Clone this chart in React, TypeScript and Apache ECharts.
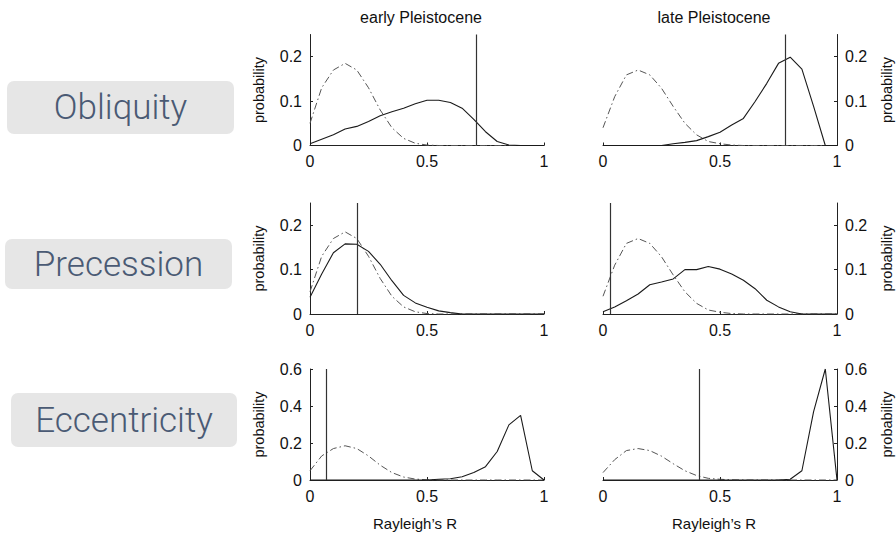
import { useEffect, useRef } from 'react';
import * as echarts from 'echarts';

// Rayleigh's R sample grid shared by every distribution
const rValues = [0, 0.05, 0.1, 0.15, 0.2, 0.25, 0.3, 0.35, 0.4, 0.45, 0.5, 0.55, 0.6, 0.65, 0.7, 0.75, 0.8, 0.85, 0.9, 0.95, 1];

// Null (random-phase) distributions, dash-dot
const nullEarly = [0.05, 0.13, 0.17, 0.185, 0.17, 0.13, 0.08, 0.04, 0.016, 0.005, 0.001, 0, 0, 0, 0, 0, 0, 0, 0, 0, 0];
const nullLate = [0.04, 0.11, 0.159, 0.17, 0.159, 0.129, 0.088, 0.05, 0.024, 0.009, 0.004, 0.001, 0, 0, 0, 0, 0, 0, 0, 0, 0];

// Distributions for each orbital forcing, solid
const obliquityEarly = [0.004, 0.014, 0.024, 0.037, 0.043, 0.054, 0.067, 0.076, 0.084, 0.094, 0.102, 0.102, 0.097, 0.084, 0.059, 0.031, 0.009, 0.001, 0, 0, 0];
const obliquityLate = [0, 0, 0, 0, 0, 0, 0.004, 0.007, 0.011, 0.02, 0.03, 0.046, 0.061, 0.099, 0.14, 0.185, 0.199, 0.172, 0.088, 0, 0];
const precessionEarly = [0.038, 0.09, 0.138, 0.158, 0.157, 0.141, 0.112, 0.075, 0.042, 0.025, 0.015, 0.007, 0.003, 0, 0, 0, 0, 0, 0, 0, 0];
const precessionLate = [0.005, 0.016, 0.03, 0.045, 0.066, 0.072, 0.079, 0.1, 0.1, 0.107, 0.101, 0.09, 0.076, 0.057, 0.031, 0.016, 0.005, 0, 0, 0, 0];
const eccentricityEarly = [0, 0, 0, 0, 0, 0, 0, 0, 0, 0, 0, 0.004, 0.007, 0.018, 0.04, 0.072, 0.154, 0.298, 0.349, 0.05, 0];
const eccentricityLate = [0, 0, 0, 0, 0, 0, 0, 0, 0, 0, 0, 0, 0, 0, 0, 0, 0.004, 0.05, 0.37, 0.6, 0];

// Observed Rayleigh's R (vertical lines): obliquity, precession, eccentricity
const observedEarly = [0.712, 0.195, 0.074];
const observedLate = [0.783, 0.028, 0.413];

const columnTitles = ['early Pleistocene', 'late Pleistocene'];
const rowNames = ['Obliquity', 'Precession', 'Eccentricity'];
const xTicks = [0, 0.5, 1];
const probTicksSmall = [0, 0.1, 0.2];
const probTicksLarge = [0, 0.2, 0.4, 0.6];
const rowMax = [0.25, 0.25, 0.6];

const FONT = '"Liberation Sans", Arial, Helvetica, sans-serif';
const LABEL_FONT = 'Roboto, "Helvetica Neue", "Noto Sans", sans-serif';

const gridLefts = [310, 603];
const gridTops = [34.5, 203, 369];
const gridW = 234;
const gridH = 111;

export default function App() {
  const ref = useRef<HTMLDivElement>(null);

  useEffect(() => {
    document.body.style.margin = '0';
    if (!ref.current) return;
    const chart = echarts.init(ref.current, undefined, { renderer: 'svg' });

    const observed = [
      [obliquityEarly, obliquityLate],
      [precessionEarly, precessionLate],
      [eccentricityEarly, eccentricityLate],
    ];
    const nulls = [nullEarly, nullLate];
    const marks = [observedEarly, observedLate];

    const grids: any[] = [];
    const xAxes: any[] = [];
    const yAxes: any[] = [];
    const series: any[] = [];

    for (let row = 0; row < 3; row++) {
      for (let col = 0; col < 2; col++) {
        const idx = row * 2 + col;
        const yTicks = row === 2 ? probTicksLarge : probTicksSmall;
        grids.push({ left: gridLefts[col], top: gridTops[row], width: gridW, height: gridH });
        xAxes.push({
          gridIndex: idx,
          type: 'value',
          min: 0,
          max: 1,
          axisLine: { show: true, onZero: false, lineStyle: { color: '#222', width: 1 } },
          axisTick: { show: true, inside: true, length: 3, customValues: xTicks, lineStyle: { color: '#222' } },
          axisLabel: { customValues: xTicks, fontSize: 16, color: '#111', fontFamily: FONT, margin: 8 },
          splitLine: { show: false },
        });
        yAxes.push({
          gridIndex: idx,
          type: 'value',
          position: col === 0 ? 'left' : 'right',
          min: 0,
          max: rowMax[row],
          axisLine: { show: true, onZero: false, lineStyle: { color: '#222', width: 1 } },
          axisTick: { show: true, inside: true, length: 3, customValues: yTicks, lineStyle: { color: '#222' } },
          axisLabel: { customValues: yTicks, fontSize: 16, color: '#111', fontFamily: FONT, margin: 8 },
          splitLine: { show: false },
        });
        series.push({
          type: 'line',
          xAxisIndex: idx,
          yAxisIndex: idx,
          data: rValues.map((r, i) => [r, nulls[col][i]]),
          symbol: 'none',
          silent: true,
          lineStyle: { color: '#555', width: 1, type: [7, 3, 1.5, 3] },
          z: 2,
        });
        series.push({
          type: 'line',
          xAxisIndex: idx,
          yAxisIndex: idx,
          data: rValues.map((r, i) => [r, observed[row][col][i]]),
          symbol: 'none',
          silent: true,
          lineStyle: { color: '#1a1a1a', width: 1.1 },
          z: 3,
          markLine: {
            silent: true,
            symbol: ['none', 'none'],
            label: { show: false },
            lineStyle: { color: '#333', width: 1.2, type: 'solid' },
            data: [{ xAxis: marks[col][row] }],
          },
        });
      }
    }

    const graphics: any[] = [];
    // column titles
    [421, 714].forEach((x, i) => {
      graphics.push({
        type: 'text', x, y: 17,
        style: { text: columnTitles[i], fontSize: 16, fontFamily: FONT, fill: '#111', align: 'center', verticalAlign: 'middle' },
      });
    });
    // probability labels
    [259, 887].forEach((x) => {
      gridTops.forEach((t) => {
        graphics.push({
          type: 'text', x, y: t + gridH / 2, rotation: Math.PI / 2,
          style: { text: 'probability', fontSize: 14.5, fontFamily: FONT, fill: '#111', align: 'center', verticalAlign: 'middle' },
        });
      });
    });
    // x axis names
    [415, 714].forEach((x) => {
      graphics.push({
        type: 'text', x, y: 523,
        style: { text: 'Rayleigh\u2019s R', fontSize: 15, fontFamily: FONT, fill: '#111', align: 'center', verticalAlign: 'middle' },
      });
    });
    // row name boxes
    const boxes = [
      { x: 7, y: 81, w: 227, h: 53 },
      { x: 5, y: 239, w: 227, h: 50 },
      { x: 11, y: 393, w: 226, h: 54 },
    ];
    boxes.forEach((b, i) => {
      graphics.push({
        type: 'rect', shape: { x: b.x, y: b.y, width: b.w, height: b.h, r: 7 },
        style: { fill: '#e6e6e6' },
      });
      graphics.push({
        type: 'text', x: b.x + b.w / 2, y: b.y + b.h / 2,
        style: { text: rowNames[i], fontSize: 35, fontWeight: 300, fontFamily: LABEL_FONT, fill: '#4a5a74', align: 'center', verticalAlign: 'middle' },
      });
    });

    chart.setOption({
      animation: false,
      backgroundColor: '#ffffff',
      grid: grids,
      xAxis: xAxes,
      yAxis: yAxes,
      series,
      graphic: graphics,
    });

    return () => chart.dispose();
  }, []);

  return <div ref={ref} style={{ width: 896, height: 535 }} />;
}
